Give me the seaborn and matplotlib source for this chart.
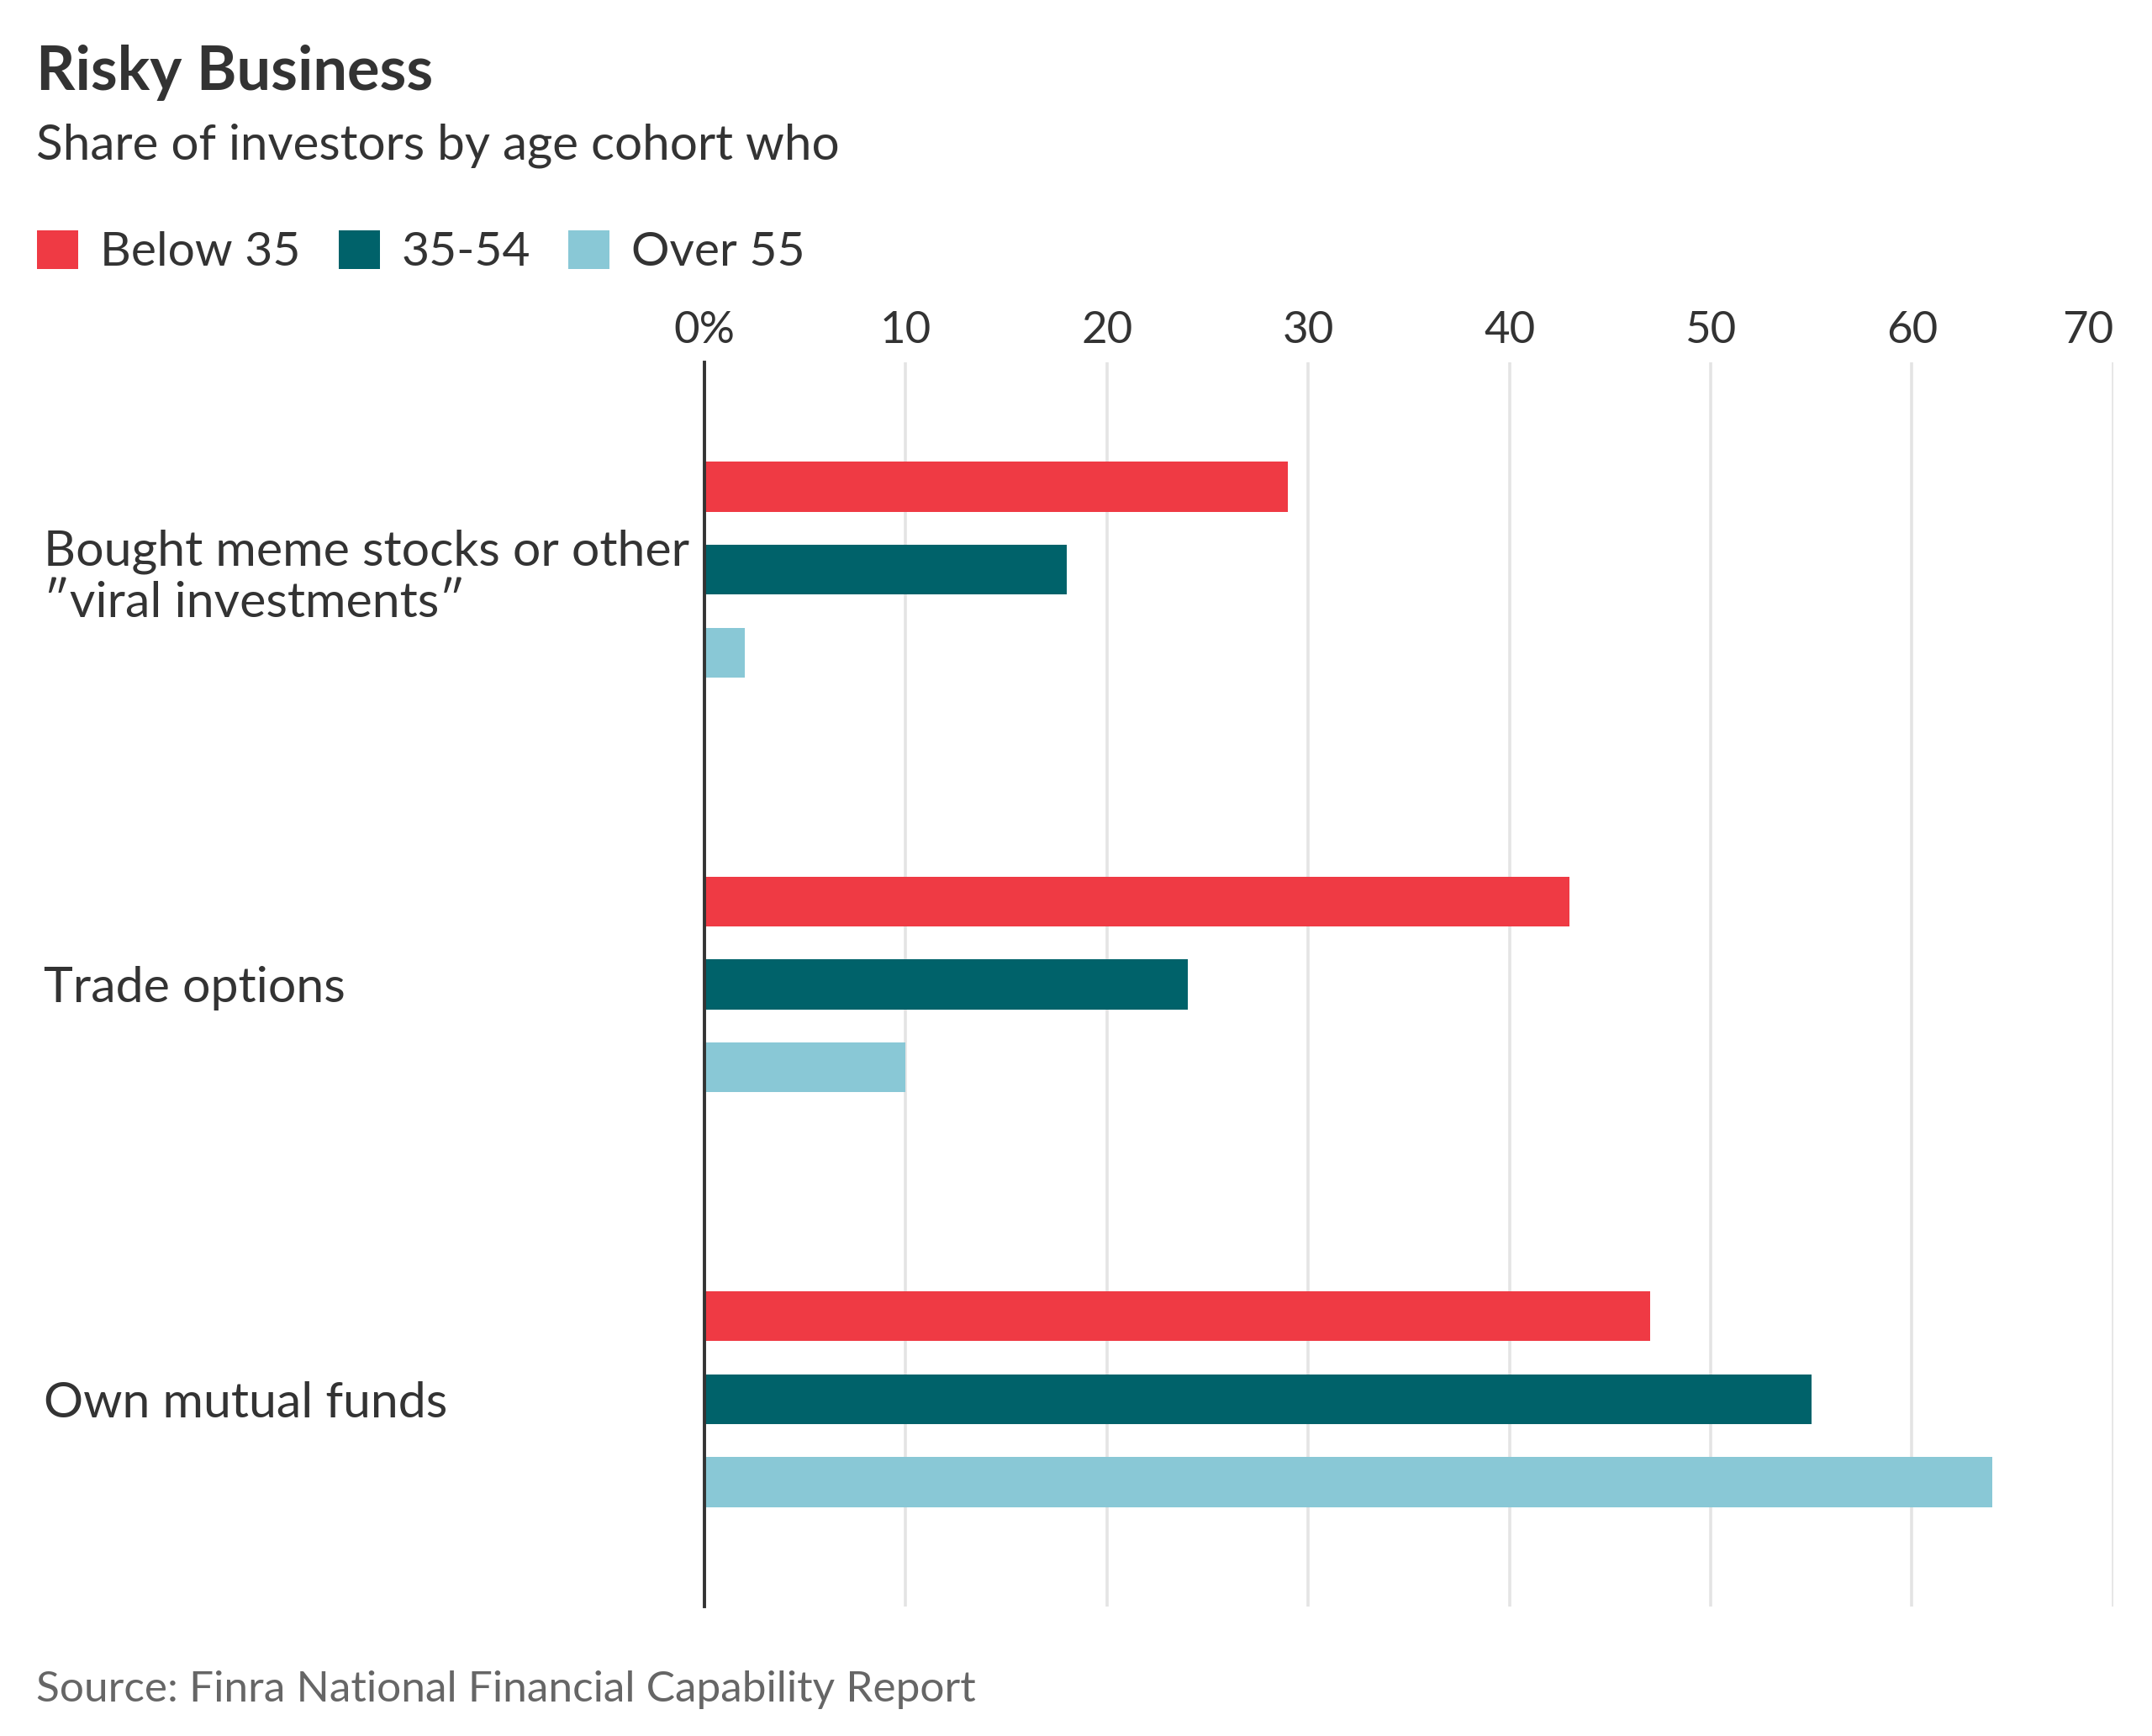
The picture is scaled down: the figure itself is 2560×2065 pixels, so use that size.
import pandas as pd
import seaborn as sns
import matplotlib.pyplot as plt

categories = ["Bought meme stocks or other\n\u2033viral investments\u2033", "Trade options", "Own mutual funds"]
cohorts = ["Below 35", "35-54", "Over 55"]
below_35 = [29, 43, 47]
mid_35_54 = [18, 24, 55]
over_55 = [2, 10, 64]
x_ticks = [0, 10, 20, 30, 40, 50, 60, 70]
x_tick_labels = ["0%", "10", "20", "30", "40", "50", "60", "70"]
colors = ["#EF3A44", "#00626A", "#89C8D6"]

rows = []
for cohort, values in zip(cohorts, [below_35, mid_35_54, over_55]):
    for cat, v in zip(categories, values):
        rows.append({"category": cat, "cohort": cohort, "value": v})
df = pd.DataFrame(rows)

sns.set_style("white")
plt.rcParams['font.family'] = ['Lato', 'DejaVu Sans']
text_col = "#333333"

fig = plt.figure(figsize=(25.6, 20.65), dpi=100)
ax = fig.add_axes([0.3273, 0.0746, 0.6547, 0.7167])

sns.barplot(data=df, x="value", y="category", hue="cohort", order=categories,
            hue_order=cohorts, palette=colors, saturation=1, orient="h",
            width=0.6, gap=0.4, errorbar=None, linewidth=0, ax=ax)

# axe des x en haut, grille verticale
ax.set_xlim(0, 70)
ax.set_ylim(2.5, -0.5)
ax.xaxis.tick_top()
ax.set_xticks(x_ticks)
ax.set_xticklabels(x_tick_labels, fontsize=38, color=text_col)
ax.get_xticklabels()[-1].set_horizontalalignment("right")
ax.tick_params(axis="x", length=0, pad=10)
ax.grid(axis="x", color="#E4E4E4", linewidth=2.6)
ax.set_axisbelow(True)
ax.set_xlabel("")
ax.set_ylabel("")

# labels des categories alignes a gauche
ax.tick_params(axis="y", length=0, pad=566)
for lbl in ax.get_yticklabels():
    lbl.set_horizontalalignment("left")
    lbl.set_fontsize(42.5)
    lbl.set_color(text_col)

for side in ["top", "right", "bottom"]:
    ax.spines[side].set_visible(False)
ax.spines["left"].set_color("#333333")
ax.spines["left"].set_linewidth(2.8)

# legende
sns.move_legend(ax, "center left", bbox_to_anchor=(0.0172, 0.8547),
                bbox_transform=fig.transFigure, ncol=3, frameon=False,
                title=None, fontsize=41, handlelength=0.86, handleheight=0.86,
                handletextpad=0.45, columnspacing=0.8, borderpad=0, borderaxespad=0)
for t in ax.get_legend().get_texts():
    t.set_color(text_col)

fig.text(0.0168, 1 - 107 / 2065, "Risky Business", fontsize=52, fontweight="bold",
         color=text_col, ha="left", va="baseline")
fig.text(0.0168, 1 - 189 / 2065, "Share of investors by age cohort who", fontsize=42,
         color=text_col, ha="left", va="baseline")
fig.text(0.0168, 1 - 2024 / 2065, "Source: Finra National Financial Capability Report",
         fontsize=37, color="#666666", ha="left", va="baseline")

fig.savefig("out.png", dpi=100, facecolor="white")
